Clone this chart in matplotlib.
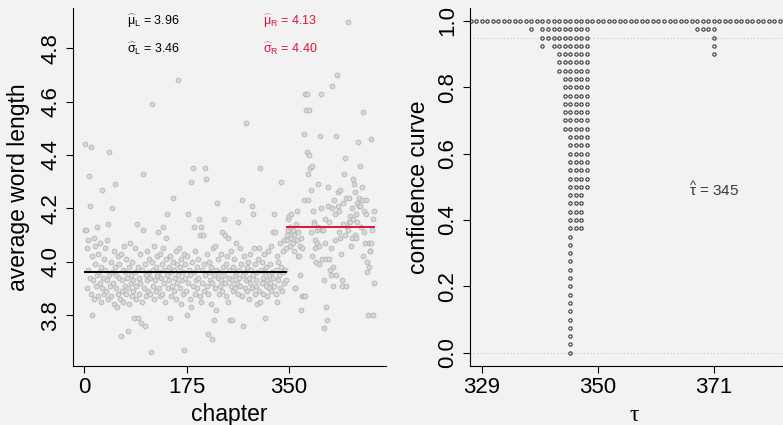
import numpy as np
import matplotlib
matplotlib.use('Agg')
from matplotlib import pyplot as plt

plt.rcParams['font.family'] = ['Liberation Sans', 'DejaVu Sans']
plt.rcParams['mathtext.fontset'] = 'custom'
plt.rcParams['mathtext.rm'] = 'Liberation Sans'
plt.rcParams['mathtext.it'] = 'Liberation Sans'
plt.rcParams['mathtext.bf'] = 'Liberation Sans:bold'

# average word length per chapter, chapters 1..345 (before change point)
len_left = [
    4.44, 4.12, 4.12, 4.05, 3.90, 4.08, 3.97, 4.32, 4.21, 3.94,
    4.43, 3.88, 3.80, 4.02, 3.93, 4.09, 3.86, 3.99, 4.06, 3.91,
    3.95, 4.13, 3.87, 4.03, 3.96, 3.92, 4.07, 3.85, 3.98, 3.90,
    4.27, 3.94, 4.01, 3.88, 3.97, 4.05, 3.89, 3.93, 4.08, 3.86,
    4.14, 4.41, 3.95, 3.91, 4.00, 3.87, 3.96, 4.20, 3.92, 4.04,
    3.84, 3.98, 4.29, 3.90, 3.95, 3.83, 4.02, 3.88, 3.94, 3.99,
    3.86, 4.03, 3.72, 3.93, 3.89, 3.97, 3.85, 4.06, 3.91, 3.96,
    3.88, 4.01, 3.94, 3.74, 3.90, 3.98, 3.84, 4.07, 3.92, 3.95,
    3.87, 4.00, 3.93, 3.89, 3.79, 4.05, 3.96, 3.91, 3.86, 4.14,
    3.79, 3.98, 3.94, 3.88, 4.03, 3.92, 3.77, 3.97, 3.85, 4.12,
    4.33, 3.90, 3.76, 3.99, 3.95, 3.87, 4.04, 3.93, 3.89, 4.01,
    3.96, 3.88, 3.94, 3.66, 4.00, 4.59, 3.91, 3.97, 3.86, 4.06,
    3.93, 3.98, 3.89, 4.02, 3.95, 4.11, 3.90, 3.96, 3.87, 4.03,
    3.94, 3.99, 3.88, 4.05, 4.13, 3.92, 3.97, 3.85, 4.01, 4.09,
    3.95, 4.18, 3.90, 3.98, 3.93, 3.79, 4.02, 3.87, 3.96, 3.91,
    4.00, 4.24, 3.89, 3.97, 3.94, 4.04, 3.86, 3.99, 3.92, 4.68,
    3.95, 4.05, 3.90, 3.98, 3.84, 4.01, 3.93, 3.88, 3.96, 4.03,
    3.67, 3.94, 3.99, 3.89, 3.80, 4.02, 3.92, 4.18, 3.97, 3.86,
    3.95, 3.83, 4.30, 4.00, 4.35, 3.91, 4.13, 3.96, 3.88, 4.04,
    3.93, 3.98, 3.90, 4.01, 3.94, 4.16, 4.10, 3.87, 4.13, 3.85,
    3.97, 3.92, 4.10, 3.99, 3.89, 4.35, 3.95, 4.31, 3.91, 4.03,
    3.88, 3.73, 3.96, 4.00, 3.93, 3.84, 3.98, 3.71, 3.92, 4.05,
    3.78, 3.95, 3.90, 4.06, 3.97, 3.82, 4.22, 3.94, 4.01, 3.88,
    3.96, 3.91, 4.03, 3.93, 4.11, 3.89, 3.98, 3.95, 4.16, 4.10,
    3.92, 3.99, 3.87, 4.02, 4.09, 3.85, 3.94, 3.97, 3.78, 3.91,
    4.04, 3.78, 3.93, 3.98, 3.89, 4.01, 3.95, 3.90, 4.07, 3.96,
    3.92, 3.88, 4.15, 3.97, 3.94, 4.05, 3.91, 3.99, 3.87, 4.23,
    3.76, 3.95, 4.02, 3.90, 3.96, 3.93, 4.52, 3.89, 3.98, 4.00,
    3.94, 3.86, 4.03, 3.92, 3.97, 3.90, 4.21, 4.18, 3.95, 4.05,
    3.88, 3.99, 3.93, 3.91, 3.84, 3.96, 4.01, 3.89, 4.05, 4.35,
    3.85, 3.97, 3.92, 4.00, 3.94, 3.88, 3.96, 4.03, 3.79, 3.91,
    3.98, 3.93, 3.87, 4.04, 3.95, 3.90, 3.99, 3.92, 4.06, 3.89,
    3.96, 4.11, 3.94, 4.18, 3.91, 4.11, 3.97, 3.88, 4.02, 3.85,
    3.93, 4.00, 3.95, 4.07, 3.90, 3.98, 4.30, 3.89, 4.04, 3.96,
    3.92, 4.08, 3.97, 3.93, 4.05,
]
# chapters 346..496 (after change point)
len_right = [
    4.10, 4.08, 4.16, 4.12, 4.17, 4.06, 4.13, 4.09, 4.18, 4.11,
    4.07, 4.12, 4.04, 4.10, 3.90, 3.90, 4.14, 4.19, 4.08, 4.02,
    4.11, 4.02, 4.06, 3.95, 3.82, 4.09, 4.05, 3.87, 3.87, 4.23,
    4.48, 3.87, 4.63, 4.57, 4.63, 4.41, 4.33, 4.23, 4.57, 4.40,
    4.35, 4.27, 4.11, 4.02, 4.36, 4.19, 4.15, 4.14, 4.08, 4.05,
    4.00, 4.12, 4.07, 4.29, 4.13, 3.99, 4.06, 4.47, 4.63, 4.20,
    4.12, 4.01, 4.12, 3.93, 3.75, 4.07, 4.16, 4.01, 3.83, 3.78,
    4.21, 4.28, 4.01, 4.15, 3.97, 4.05, 3.95, 4.20, 4.66, 3.98,
    3.91, 4.23, 4.08, 4.18, 3.95, 4.47, 4.70, 4.26, 4.21, 4.19,
    4.11, 4.09, 4.27, 4.03, 3.93, 3.91, 4.22, 4.14, 4.33, 4.39,
    4.10, 4.24, 3.91, 4.13, 4.12, 4.90, 4.15, 4.24, 4.15, 4.17,
    4.06, 4.20, 4.09, 4.16, 4.31, 4.29, 4.10, 4.26, 4.18, 4.09,
    4.15, 4.22, 4.45, 4.21, 4.24, 4.21, 4.36, 4.13, 4.23, 4.28,
    4.56, 4.02, 4.11, 4.19, 4.07, 4.18, 4.23, 4.00, 3.96, 3.80,
    4.07, 3.98, 4.04, 4.04, 4.07, 4.46, 4.12, 3.80, 4.16, 3.92,
    4.19,
]
tau_hat = 345
mu_hat = [3.96, 4.13]
sigma_hat = [3.46, 4.40]

# confidence curve: levels below 1 for these change points, all others at 1
tau_grid = np.arange(320, 396)
tau_low = [338, 340, 341, 342, 343, 344, 345, 346, 347, 348, 368, 369, 370, 371]
cc_low = [0.975, 0.925, 0.95, 0.925, 0.85, 0.675, 0.0, 0.375, 0.375, 0.5,
          0.975, 0.975, 0.975, 0.9]
levels = np.arange(41) / 40

bg = '#F2F2F2'
red = '#DC143C'

y = np.array(len_left + len_right)
n = len(y)
x = np.arange(1, n + 1)

fig = plt.figure(figsize=(7.83, 4.25), dpi=100, facecolor=bg)
ax1 = fig.add_axes([73.3/783, 59.3/425, 312.7/783, 357.4/425])
ax2 = fig.add_axes([470/783, 59.0/425, 329.3/783, 358.3/425])

for ax in (ax1, ax2):
    ax.set_facecolor(bg)
    ax.spines['top'].set_visible(False)
    ax.spines['right'].set_visible(False)
    ax.tick_params(length=4.8, width=0.8, labelsize=16, direction='out')
    ax.tick_params(axis='x', pad=3)
    ax.tick_params(axis='y', pad=4)

# left panel
ax1.scatter(x, y, s=12, facecolor='#D9D9D9', edgecolor='#B3B3B3', linewidth=0.6, zorder=2)
ax1.plot([1, tau_hat], [mu_hat[0]] * 2, color='black', lw=1.4, zorder=3)
ax1.plot([tau_hat + 1, n], [mu_hat[1]] * 2, color=red, lw=1.4, zorder=3)
pad = 0.04 * (n - 1)
ax1.set_xlim(1 - pad, n + pad)
ypad = 0.04 * (y.max() - y.min())
ax1.set_ylim(y.min() - ypad, y.max() + ypad)
ax1.set_xticks([0, 175, 350])
ax1.set_yticks([3.8, 4.0, 4.2, 4.4, 4.6, 4.8])
ax1.set_yticklabels(['3.8', '4.0', '4.2', '4.4', '4.6', '4.8'], rotation=90, va='center')
ax1.set_xlabel('chapter', fontsize=16.5)
ax1.set_ylabel('average word length', fontsize=16.5)
ax1.xaxis.set_label_coords(0.5, -0.105)
ax1.yaxis.set_label_coords(-0.14, 0.5)
ax1.text(73, 4.90, r'$\widehat{\mu}_{\mathrm{L}}$ = %.2f' % mu_hat[0], fontsize=9, va='center')
ax1.text(73, 4.797, r'$\widehat{\sigma}_{\mathrm{L}}$ = %.2f' % sigma_hat[0], fontsize=9, va='center')
ax1.text(305, 4.90, r'$\widehat{\mu}_{\mathrm{R}}$ = %.2f' % mu_hat[1], fontsize=9, va='center', color=red)
ax1.text(305, 4.797, r'$\widehat{\sigma}_{\mathrm{R}}$ = %.2f' % sigma_hat[1], fontsize=9, va='center', color=red)

# right panel
cc = np.ones(len(tau_grid))
for t, c in zip(tau_low, cc_low):
    cc[tau_grid == t] = c
ax2.axhline(0.95, color='#C8C8C8', lw=0.8, ls=(0, (1, 2)), zorder=1)
ax2.axhline(0.0, color='#C8C8C8', lw=0.8, ls=(0, (1, 2)), zorder=1)
px, py = [], []
for t, c in zip(tau_grid, cc):
    for lv in levels:
        if lv >= c - 1e-9:
            px.append(t)
            py.append(lv)
ax2.plot(px, py, 'o', ms=2.4, mfc='none', mec='#222222', mew=0.7, zorder=2)
ax2.set_xlim(326.88, 386.5)
ax2.set_ylim(-0.04, 1.04)
ax2.set_xticks([329, 350, 371])
ax2.set_yticks([0.0, 0.2, 0.4, 0.6, 0.8, 1.0])
ax2.set_yticklabels(['0.0', '0.2', '0.4', '0.6', '0.8', '1.0'], rotation=90, va='center')
ax2.set_xlabel('τ', fontsize=17, family='Liberation Serif')
ax2.set_ylabel('confidence curve', fontsize=16.5)
ax2.xaxis.set_label_coords(0.5, -0.11)
ax2.yaxis.set_label_coords(-0.12, 0.5)
ax2.text(371, 0.49, r'$\widehat{\tau}$ = %d' % tau_hat, fontsize=11, ha='center', va='center', color='#3A3A3A')

fig.savefig('out.png', dpi=100, facecolor=bg)
